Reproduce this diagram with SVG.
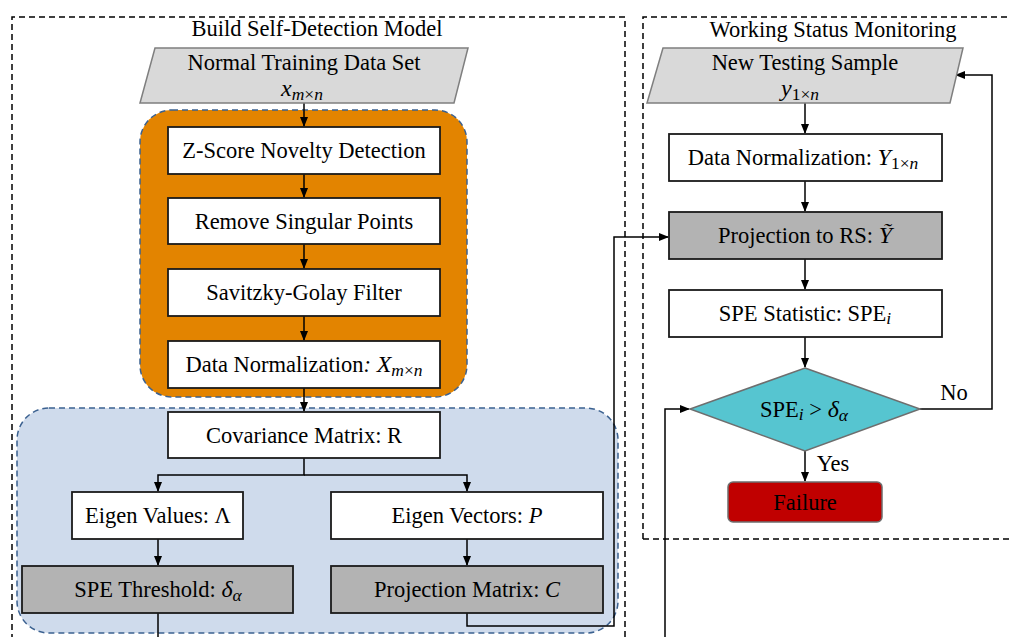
<svg xmlns="http://www.w3.org/2000/svg" width="1011" height="637" viewBox="0 0 1011 637">
<style>
text{font-family:"Liberation Serif","Times New Roman",serif;font-size:22.5px;fill:#000;text-anchor:middle}
.i{font-style:italic}
.m{font-style:italic;font-size:24px}
.s{font-size:17.5px}
.frame{fill:none;stroke:#000;stroke-width:1.5;stroke-dasharray:6 4}
.box{fill:#fff;stroke:#1a1a1a;stroke-width:1.8}
.gbox{fill:#b3b3b3;stroke:#1a1a1a;stroke-width:1.8}
.para{fill:#d9d9d9;stroke:#7f7f7f;stroke-width:1.5}
.grp{stroke:#3b6190;stroke-width:1.5;stroke-dasharray:6 4}
.ln{fill:none;stroke:#000;stroke-width:1.5}
</style>
<defs>
<marker id="ah" markerWidth="10" markerHeight="8" refX="9" refY="4" orient="auto" markerUnits="userSpaceOnUse">
<path d="M0,0 L10,4 L0,8 Z" fill="#000"/>
</marker>
</defs>
<rect width="1011" height="637" fill="#fff"/>
<g id="frames">
<path class="frame" d="M12,640 V17 H625 V640"/>
<path class="frame" d="M643,539 V17 H1015 M643,539 H1015"/>
<text x="317" y="36">Build Self-Detection Model</text>
<text x="833" y="37">Working Status Monitoring</text>
</g>
<g id="groups">
<rect class="grp" x="140" y="110" width="327" height="287" rx="32" fill="#e38400"/>
<rect class="grp" x="17" y="408" width="601" height="225" rx="32" fill="#cfdbec"/>
</g>
<g id="connectors">
<path class="ln" d="M304,103 V126" marker-end="url(#ah)"/>
<path class="ln" d="M304,174 V197" marker-end="url(#ah)"/>
<path class="ln" d="M304,244 V268" marker-end="url(#ah)"/>
<path class="ln" d="M304,316 V340" marker-end="url(#ah)"/>
<path class="ln" d="M304,388 V411" marker-end="url(#ah)"/>
<path class="ln" d="M304,458 V475 H158 V491" marker-end="url(#ah)"/>
<path class="ln" d="M304,475 H467 V491" marker-end="url(#ah)"/>
<path class="ln" d="M158,539 V565" marker-end="url(#ah)"/>
<path class="ln" d="M467,539 V565" marker-end="url(#ah)"/>
<path class="ln" d="M158,613 V640"/>
<path class="ln" d="M467,613 V626 H614 V237 H668" marker-end="url(#ah)"/>
<path class="ln" d="M805,103 V133" marker-end="url(#ah)"/>
<path class="ln" d="M805,181 V211" marker-end="url(#ah)"/>
<path class="ln" d="M805,259 V289" marker-end="url(#ah)"/>
<path class="ln" d="M805,337 V367" marker-end="url(#ah)"/>
<path class="ln" d="M805,451 V481" marker-end="url(#ah)"/>
<path class="ln" d="M920,409 H992 V75 H956" marker-end="url(#ah)"/>
<path class="ln" d="M665,640 V409 H689" marker-end="url(#ah)"/>
<text x="833" y="471">Yes</text>
<text x="954" y="400">No</text>
</g>
<g id="n-train">
<polygon class="para" points="155,48 468,48 454,103 140,103"/>
<text x="304" y="70">Normal Training Data Set</text>
<text x="302" y="96"><tspan class="m">x</tspan><tspan class="s i" dy="4">m</tspan><tspan class="s" >×</tspan><tspan class="s i">n</tspan></text>
</g>
<g id="n-zscore">
<rect class="box" x="168" y="127" width="272" height="47"/>
<text x="304" y="158">Z-Score Novelty Detection</text>
</g>
<g id="n-remove">
<rect class="box" x="168" y="198" width="272" height="46"/>
<text x="304" y="229">Remove Singular Points</text>
</g>
<g id="n-sg">
<rect class="box" x="168" y="269" width="272" height="47"/>
<text x="304" y="300">Savitzky-Golay Filter</text>
</g>
<g id="n-norm">
<rect class="box" x="168" y="341" width="272" height="47"/>
<text x="304" y="372">Data Normalization<tspan class="i">:</tspan> <tspan class="m">X</tspan><tspan class="s i" dy="4">m</tspan><tspan class="s">×</tspan><tspan class="s i">n</tspan></text>
</g>
<g id="n-cov">
<rect class="box" x="168" y="412" width="272" height="46"/>
<text x="304" y="443">Covariance Matrix: R</text>
</g>
<g id="n-eigval">
<rect class="box" x="72" y="492" width="171" height="47"/>
<text x="158" y="523">Eigen Values: Λ</text>
</g>
<g id="n-eigvec">
<rect class="box" x="331" y="492" width="272" height="47"/>
<text x="467" y="523">Eigen Vectors: <tspan class="i">P</tspan></text>
</g>
<g id="n-spet">
<rect class="gbox" x="22" y="566" width="271" height="47"/>
<text x="158" y="597">SPE Threshold: <tspan class="m">δ</tspan><tspan class="s i" dy="4">α</tspan></text>
</g>
<g id="n-projm">
<rect class="gbox" x="331" y="566" width="272" height="47"/>
<text x="467" y="597">Projection Matrix: <tspan class="i">C</tspan></text>
</g>
<g id="n-test">
<polygon class="para" points="663,48 963,48 950,103 647,103"/>
<text x="805" y="70">New Testing Sample</text>
<text x="800" y="96"><tspan class="m">y</tspan><tspan class="s" dy="4">1×</tspan><tspan class="s i">n</tspan></text>
</g>
<g id="n-ynorm">
<rect class="box" x="669" y="134" width="273" height="47"/>
<text x="803" y="165">Data Normalization: <tspan class="m">Y</tspan><tspan class="s" dy="4">1×</tspan><tspan class="s i">n</tspan></text>
</g>
<g id="n-proj">
<rect class="gbox" x="669" y="212" width="273" height="47"/>
<text x="805" y="243">Projection to RS: <tspan class="m">Ỹ</tspan></text>
</g>
<g id="n-spes">
<rect class="box" x="669" y="290" width="273" height="47"/>
<text x="805" y="321">SPE Statistic: SPE<tspan class="s i" dy="3">i</tspan></text>
</g>
<g id="n-dec">
<polygon points="805,368 920,409 805,451 690,409" fill="#56c5d0" stroke="#6e6e6e" stroke-width="1.5"/>
<text x="804" y="417">SPE<tspan class="s i" dy="3">i</tspan><tspan dy="-3"> &gt; </tspan><tspan class="m">δ</tspan><tspan class="s i" dy="4">α</tspan></text>
</g>
<g id="n-fail">
<rect x="728" y="482" width="154" height="40" rx="5" fill="#c00000" stroke="#6e6e6e" stroke-width="1.5"/>
<text x="805" y="510">Failure</text>
</g>
</svg>
